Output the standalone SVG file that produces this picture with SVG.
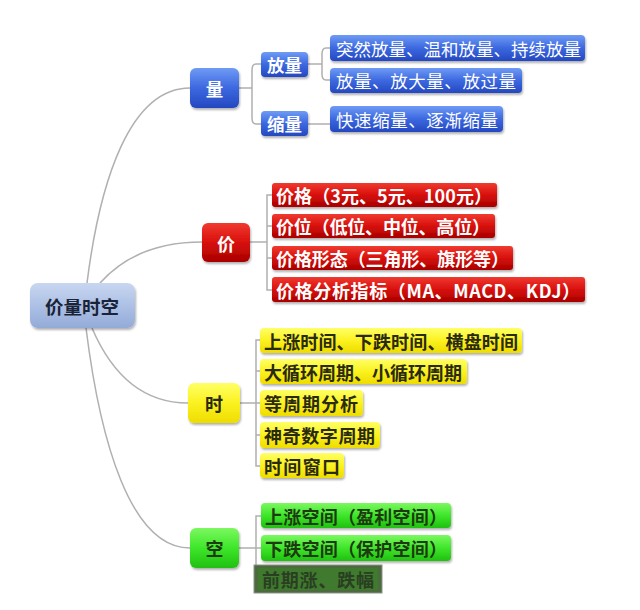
<svg xmlns="http://www.w3.org/2000/svg" width="640" height="610" viewBox="0 0 640 610">
<defs>
<linearGradient id="gBlue" x1="0" y1="0" x2="0" y2="1"><stop offset="0" stop-color="#6f9bf5"/><stop offset="0.5" stop-color="#3c68e0"/><stop offset="1" stop-color="#2448c0"/></linearGradient>
<linearGradient id="gRed" x1="0" y1="0" x2="0" y2="1"><stop offset="0" stop-color="#f03a30"/><stop offset="0.5" stop-color="#d8100c"/><stop offset="1" stop-color="#a80000"/></linearGradient>
<linearGradient id="gYel" x1="0" y1="0" x2="0" y2="1"><stop offset="0" stop-color="#ffff66"/><stop offset="0.5" stop-color="#fbf220"/><stop offset="1" stop-color="#eedc00"/></linearGradient>
<linearGradient id="gGrn" x1="0" y1="0" x2="0" y2="1"><stop offset="0" stop-color="#7cf860"/><stop offset="0.5" stop-color="#3ee62a"/><stop offset="1" stop-color="#20c010"/></linearGradient>
<linearGradient id="gCen" x1="0" y1="0" x2="0" y2="1"><stop offset="0" stop-color="#c8d6f0"/><stop offset="1" stop-color="#93abd9"/></linearGradient>
<filter id="sh" x="-10%" y="-20%" width="120%" height="150%"><feDropShadow dx="1" dy="2" stdDeviation="1.2" flood-color="#000" flood-opacity="0.3"/></filter>
</defs>
<style>
text{font-family:"Noto Sans CJK SC","Liberation Sans",sans-serif;dominant-baseline:central}
.b{fill:url(#gBlue);filter:url(#sh)}
.r{fill:url(#gRed);filter:url(#sh)}
.y{fill:url(#gYel);filter:url(#sh)}
.g{fill:url(#gGrn);filter:url(#sh)}
.c{fill:url(#gCen);filter:url(#sh)}
.tw{fill:#fff;font-size:17.5px}
.twb{fill:#fff;font-size:17.5px;font-weight:bold}
.tr{fill:#fff;font-size:18px;font-weight:bold}
.ty{fill:#2a2a10;font-size:18px;font-weight:bold}
.tg{fill:#1e3a10;font-size:18px;font-weight:bold}
.con{fill:none;stroke:#b0b0b0;stroke-width:1.5}
</style>
<rect width="640" height="610" fill="#fff"/>
<g id="connectors">
<path class="con" d="M87,283 C100,180 130,88 190,88"/>
<path class="con" d="M100,283 C125,255 160,242 202,242"/>
<path class="con" d="M92,328 C110,370 140,403 188,403"/>
<path class="con" d="M86,328 C100,440 130,548 190,548"/>
<path class="con" d="M239,88 H252 M261,64 H256 Q252,64 252,70 V118 Q252,124 256,124 H261"/>
<path class="con" d="M308,64 H322 M330,48 H326 Q322,48 322,54 V74 Q322,80 326,80 H330 M308,124 H330"/>
<path class="con" d="M250,242 H267 M272,195 H267 V290 H272 M267,226 H272 M267,258 H272"/>
<path class="con" d="M240,403 H256 M260,340 H256 V466 H260 M256,371 H260 M256,403 H260 M256,435 H260"/>
<path class="con" d="M239,548 H256 M261,516 H256 V580 M256,548 H261"/>
</g>
<g id="root"><rect class="c" x="30" y="283" width="105" height="45" rx="8"/><text x="82" y="306" text-anchor="middle" font-size="18.5" font-weight="bold" fill="#1a2438">价量时空</text></g>
<g id="n-liang"><rect class="b" x="190" y="68" width="49" height="40" rx="6"/><text class="twb" x="214.5" y="88" text-anchor="middle">量</text></g>
<g id="n-fangliang"><rect class="b" x="261" y="52" width="47" height="25" rx="4"/><text class="twb" x="284.5" y="64.5" text-anchor="middle">放量</text></g>
<g id="n-suoliang"><rect class="b" x="261" y="111" width="47" height="25" rx="4"/><text class="twb" x="284.5" y="123.5" text-anchor="middle">缩量</text></g>
<g id="n-l1"><rect class="b" x="330" y="35" width="255" height="26" rx="4"/><text class="tw" x="336" y="48">突然放量、温和放量、持续放量</text></g>
<g id="n-l2"><rect class="b" x="330" y="68" width="192" height="25" rx="4"/><text class="tw" x="336" y="80.5" textLength="180">放量、放大量、放过量</text></g>
<g id="n-l3"><rect class="b" x="330" y="106" width="173" height="26" rx="4"/><text class="tw" x="336" y="119" textLength="162">快速缩量、逐渐缩量</text></g>
<g id="n-jia"><rect class="r" x="202" y="223" width="48" height="39" rx="6"/><text class="tr" x="226" y="242.5" text-anchor="middle">价</text></g>
<g id="n-j1"><rect class="r" x="272" y="183" width="225" height="24" rx="3"/><text class="tr" x="276" y="195" textLength="216">价格（3元、5元、100元）</text></g>
<g id="n-j2"><rect class="r" x="272" y="214" width="223" height="24" rx="3"/><text class="tr" x="276" y="226" textLength="214">价位（低位、中位、高位）</text></g>
<g id="n-j3"><rect class="r" x="272" y="246" width="241" height="24" rx="3"/><text class="tr" x="276" y="258" textLength="233">价格形态（三角形、旗形等）</text></g>
<g id="n-j4"><rect class="r" x="272" y="277" width="313" height="25" rx="3"/><text class="tr" x="276" y="289.5" textLength="304">价格分析指标（MA、MACD、KDJ）</text></g>
<g id="n-shi"><rect class="y" x="188" y="383" width="52" height="40" rx="6"/><text class="ty" x="214" y="403" text-anchor="middle">时</text></g>
<g id="n-s1"><rect class="y" x="260" y="328" width="262" height="25" rx="4"/><text class="ty" x="264" y="340.5" textLength="254">上涨时间、下跌时间、横盘时间</text></g>
<g id="n-s2"><rect class="y" x="260" y="359" width="207" height="25" rx="4"/><text class="ty" x="264" y="371.5" textLength="198">大循环周期、小循环周期</text></g>
<g id="n-s3"><rect class="y" x="260" y="390" width="103" height="26" rx="4"/><text class="ty" x="264" y="403" textLength="94">等周期分析</text></g>
<g id="n-s4"><rect class="y" x="260" y="422" width="120" height="26" rx="4"/><text class="ty" x="264" y="435" textLength="111">神奇数字周期</text></g>
<g id="n-s5"><rect class="y" x="260" y="453" width="84" height="25" rx="4"/><text class="ty" x="264" y="465.5" textLength="76">时间窗口</text></g>
<g id="n-kong"><rect class="g" x="190" y="528" width="49" height="40" rx="6"/><text class="tg" x="214.5" y="548" text-anchor="middle">空</text></g>
<g id="n-k1"><rect class="g" x="261" y="503" width="190" height="25" rx="4"/><text class="tg" x="265" y="515.5" textLength="182">上涨空间（盈利空间）</text></g>
<g id="n-k2"><rect class="g" x="261" y="535" width="190" height="26" rx="4"/><text class="tg" x="265" y="548" textLength="182">下跌空间（保护空间）</text></g>
<g id="n-k3"><rect x="254" y="565" width="128" height="28" fill="#4c6a3e" stroke="#8a948a" stroke-width="1"/><rect x="258" y="568" width="120" height="22" fill="#3f7a2e"/><text x="262" y="579" font-size="18" font-weight="bold" fill="#2a3e22" textLength="112">前期涨、跌幅</text></g>
</svg>
